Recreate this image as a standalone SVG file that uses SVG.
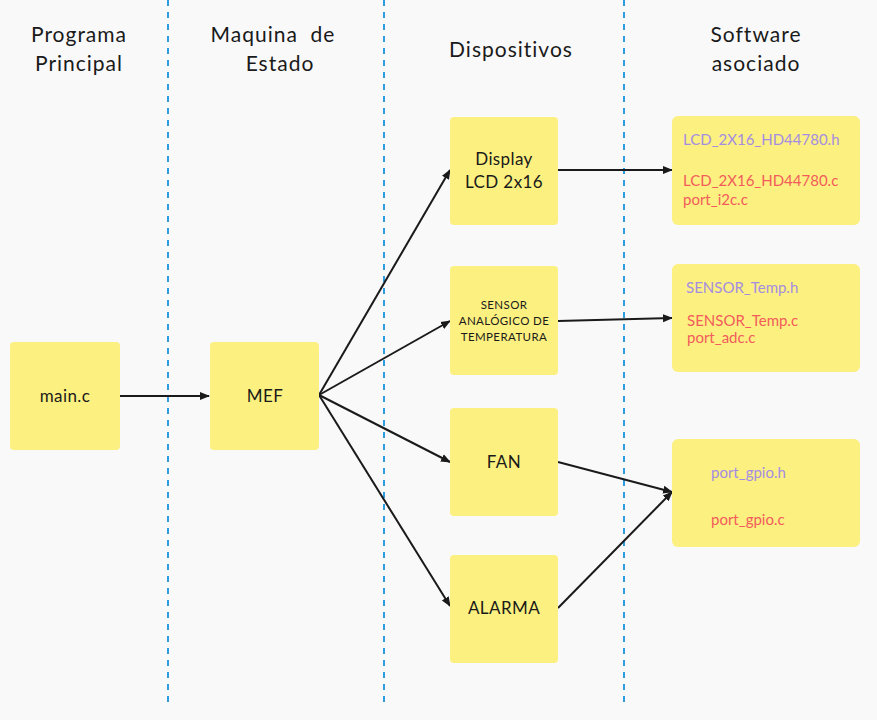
<svg xmlns="http://www.w3.org/2000/svg" width="877" height="720" viewBox="0 0 877 720">
<style>
.box{fill:#fcf080;}
.hdr{font-family:Lato,"Open Sans","Liberation Sans",sans-serif;font-size:21px;letter-spacing:1px;fill:#1a1a1a;text-anchor:middle;}
.lbl{font-family:Lato,"Open Sans","Liberation Sans",sans-serif;font-size:17px;letter-spacing:0.4px;fill:#1a1a1a;text-anchor:middle;}
.sm{font-family:Lato,"Open Sans","Liberation Sans",sans-serif;font-size:11.5px;letter-spacing:0.4px;fill:#1a1a1a;text-anchor:middle;}
.h{font-family:Lato,"Open Sans","Liberation Sans",sans-serif;font-size:15px;fill:#a58de0;}
.c{font-family:Lato,"Open Sans","Liberation Sans",sans-serif;font-size:15px;fill:#f25c5c;}
.sep{stroke:#2f9be0;stroke-width:2;stroke-dasharray:6,6;}
.con{stroke:#1a1a1a;stroke-width:2;fill:none;marker-end:url(#ah);}
</style>
<defs>
<marker id="ah" markerWidth="10" markerHeight="10" refX="9" refY="5" orient="auto" markerUnits="userSpaceOnUse">
<path d="M0,1 L10,5 L0,9 Z" fill="#1a1a1a"/>
</marker>
</defs>
<rect width="877" height="720" fill="#f9f9f9"/>
<g id="separators">
<line class="sep" x1="168" y1="0" x2="168" y2="705"/>
<line class="sep" x1="384" y1="0" x2="384" y2="705"/>
<line class="sep" x1="624" y1="0" x2="624" y2="705"/>
</g>
<g id="headers">
<text class="hdr" x="79" y="42">Programa</text>
<text class="hdr" x="79" y="71">Principal</text>
<text class="hdr" x="273" y="42" xml:space="preserve" style="white-space:pre">Maquina  de</text>
<text class="hdr" x="280" y="71">Estado</text>
<text class="hdr" x="511" y="57">Dispositivos</text>
<text class="hdr" x="756" y="42">Software</text>
<text class="hdr" x="756" y="71">asociado</text>
</g>
<g id="connectors">
<line class="con" x1="120" y1="396" x2="209" y2="396"/>
<line class="con" x1="319" y1="395" x2="450" y2="170"/>
<line class="con" x1="319" y1="395" x2="450" y2="321"/>
<line class="con" x1="319" y1="395" x2="450" y2="462"/>
<line class="con" x1="319" y1="395" x2="450" y2="606"/>
<line class="con" x1="558" y1="170" x2="672" y2="170"/>
<line class="con" x1="558" y1="321" x2="672" y2="318"/>
<line class="con" x1="558" y1="462" x2="672" y2="492"/>
<line class="con" x1="558" y1="608" x2="672" y2="492"/>
</g>
<g id="main">
<rect class="box" x="10" y="342" width="110" height="108" rx="4"/>
<text class="lbl" x="65" y="402">main.c</text>
</g>
<g id="mef">
<rect class="box" x="210" y="342" width="109" height="108" rx="4"/>
<text class="lbl" x="265" y="402">MEF</text>
</g>
<g id="display">
<rect class="box" x="450" y="117" width="108" height="108" rx="4"/>
<text class="lbl" x="504" y="165">Display</text>
<text class="lbl" x="504" y="188">LCD 2x16</text>
</g>
<g id="sensor">
<rect class="box" x="450" y="266" width="108" height="109" rx="4"/>
<text class="sm" x="504" y="309">SENSOR</text>
<text class="sm" x="504" y="325">ANALÓGICO DE</text>
<text class="sm" x="504" y="341">TEMPERATURA</text>
</g>
<g id="fan">
<rect class="box" x="450" y="408" width="108" height="108" rx="4"/>
<text class="lbl" x="504" y="468">FAN</text>
</g>
<g id="alarma">
<rect class="box" x="450" y="555" width="108" height="108" rx="4"/>
<text class="lbl" x="504" y="614">ALARMA</text>
</g>
<g id="sw-lcd">
<rect class="box" x="672" y="116" width="188" height="109" rx="6"/>
<text class="h" x="683" y="145">LCD_2X16_HD44780.h</text>
<text class="c" x="683" y="186">LCD_2X16_HD44780.c</text>
<text class="c" x="683" y="205">port_i2c.c</text>
</g>
<g id="sw-sensor">
<rect class="box" x="672" y="264" width="188" height="108" rx="6"/>
<text class="h" x="686" y="293">SENSOR_Temp.h</text>
<text class="c" x="687" y="326">SENSOR_Temp.c</text>
<text class="c" x="687" y="343">port_adc.c</text>
</g>
<g id="sw-gpio">
<rect class="box" x="672" y="439" width="188" height="108" rx="6"/>
<text class="h" x="711" y="478">port_gpio.h</text>
<text class="c" x="711" y="525">port_gpio.c</text>
</g>
</svg>
